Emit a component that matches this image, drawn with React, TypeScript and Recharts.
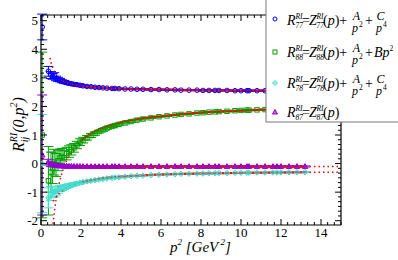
import React from "react";
import { ComposedChart, Scatter, Line, XAxis, YAxis, ErrorBar } from "recharts";

const FONT = "'Liberation Serif', 'DejaVu Serif', serif";
const BLUE = "#0000ff";
const GREEN = "#00a000";
const CYAN = "#40e0d0";
const PURPLE = "#9400d3";
const RED = "#ff0000";

// lattice momenta p^2 [GeV^2]
const p2 = [
  0.06, 0.37, 0.5, 0.58, 0.66, 0.75, 0.85, 0.95, 1.05, 1.15,
  1.28, 1.4, 1.52, 1.65, 1.8, 1.95, 2.1, 2.3, 2.5, 2.7,
  2.9, 3.1, 3.3, 3.55, 3.7, 3.9, 4.2, 4.5, 4.8, 5.1,
  5.5, 5.9, 6.3, 6.7, 7.0, 7.4, 7.8, 8.1, 8.4, 8.7,
  8.9, 9.3, 9.7, 10.0, 10.3, 10.4, 10.8, 11.2, 11.6, 11.8,
  12.0, 12.4, 12.8, 13.2,
];

const r77 = [
  4.78, 3.23, 3.1, 3.05, 3.08, 2.98, 2.95, 2.92, 2.88, 2.86,
  2.83, 2.81, 2.79, 2.77, 2.76, 2.74, 2.72, 2.7, 2.69, 2.67,
  2.66, 2.65, 2.64, 2.63, 2.63, 2.62, 2.61, 2.61, 2.6, 2.6,
  2.59, 2.59, 2.58, 2.58, 2.57, 2.57, 2.57, 2.56, 2.56, 2.56,
  2.56, 2.56, 2.55, 2.55, 2.55, 2.55, 2.55, 2.55, 2.55, 2.55,
  2.55, 2.55, 2.55, 2.55,
];
const e77 = [
  0.45, 0.17, 0.12, 0.1, 0.1, 0.08, 0.07, 0.06, 0.05, 0.05,
  0.04, 0.04, 0.04, 0.03, 0.03, 0.03, 0.03, 0.02, 0.02, 0.02,
  0.02, 0.02, 0.02, 0.02, 0.02, 0.02, 0.02, 0.02, 0.02, 0.02,
  0.02, 0.02, 0.02, 0.02, 0.02, 0.02, 0.02, 0.02, 0.02, 0.02,
  0.02, 0.02, 0.02, 0.02, 0.02, 0.02, 0.02, 0.02, 0.02, 0.02,
  0.02, 0.02, 0.02, 0.02,
];

const r88 = [
  1.0, -0.6, -0.3, -0.15, 0.05, -0.05, 0.1, 0.2, 0.25, 0.2,
  0.35, 0.42, 0.48, 0.55, 0.65, 0.75, 0.82, 0.9, 0.98, 1.05,
  1.12, 1.18, 1.24, 1.3, 1.33, 1.37, 1.42, 1.47, 1.52, 1.56,
  1.6, 1.64, 1.67, 1.7, 1.72, 1.74, 1.77, 1.78, 1.8, 1.81,
  1.82, 1.83, 1.85, 1.86, 1.87, 1.87, 1.88, 1.89, 1.9, 1.9,
  1.91, 1.92, 1.92, 1.93,
];
const e88 = [
  2.9, 1.2, 0.7, 0.55, 0.45, 0.4, 0.35, 0.3, 0.28, 0.25,
  0.22, 0.2, 0.18, 0.15, 0.13, 0.12, 0.1, 0.08, 0.07, 0.06,
  0.05, 0.05, 0.04, 0.04, 0.03, 0.03, 0.03, 0.03, 0.03, 0.03,
  0.02, 0.02, 0.02, 0.02, 0.02, 0.02, 0.02, 0.02, 0.02, 0.02,
  0.02, 0.02, 0.02, 0.02, 0.02, 0.02, 0.02, 0.02, 0.02, 0.02,
  0.02, 0.02, 0.02, 0.02,
];

const r78 = [
  0.0, -1.2, -1.05, -1.0, -0.98, -0.95, -0.92, -0.88, -0.85, -0.83,
  -0.8, -0.77, -0.75, -0.72, -0.7, -0.67, -0.65, -0.62, -0.6, -0.58,
  -0.56, -0.54, -0.52, -0.5, -0.49, -0.48, -0.46, -0.44, -0.43, -0.42,
  -0.4, -0.39, -0.38, -0.37, -0.36, -0.355, -0.35, -0.345, -0.34, -0.335,
  -0.33, -0.33, -0.325, -0.32, -0.32, -0.32, -0.315, -0.315, -0.31, -0.31,
  -0.31, -0.305, -0.305, -0.3,
];
const e78 = [
  1.72, 0.35, 0.25, 0.2, 0.18, 0.15, 0.12, 0.1, 0.09, 0.08,
  0.07, 0.06, 0.05, 0.05, 0.04, 0.04, 0.03, 0.03, 0.02, 0.02,
  0.02, 0.02, 0.02, 0.02, 0.02, 0.02, 0.02, 0.02, 0.02, 0.02,
  0.02, 0.02, 0.02, 0.02, 0.02, 0.02, 0.02, 0.02, 0.02, 0.02,
  0.02, 0.02, 0.02, 0.02, 0.02, 0.02, 0.02, 0.02, 0.02, 0.02,
  0.02, 0.02, 0.02, 0.02,
];

const r87 = [
  0.3, 0.05, -0.02, -0.04, -0.05, -0.06, -0.07, -0.08, -0.08, -0.09,
  -0.09, -0.09, -0.09, -0.095, -0.095, -0.095, -0.1, -0.1, -0.1, -0.1,
  -0.1, -0.1, -0.1, -0.1, -0.1, -0.1, -0.1, -0.1, -0.1, -0.1,
  -0.1, -0.1, -0.1, -0.1, -0.1, -0.1, -0.1, -0.1, -0.1, -0.1,
  -0.1, -0.1, -0.1, -0.1, -0.1, -0.1, -0.1, -0.1, -0.1, -0.1,
  -0.1, -0.1, -0.1, -0.1,
];
const e87 = [
  2.1, 0.1, 0.08, 0.07, 0.06, 0.05, 0.05, 0.04, 0.04, 0.03,
  0.02, 0.02, 0.02, 0.02, 0.02, 0.02, 0.02, 0.02, 0.02, 0.02,
  0.02, 0.02, 0.02, 0.02, 0.02, 0.02, 0.02, 0.02, 0.02, 0.02,
  0.02, 0.02, 0.02, 0.02, 0.02, 0.02, 0.02, 0.02, 0.02, 0.02,
  0.02, 0.02, 0.02, 0.02, 0.02, 0.02, 0.02, 0.02, 0.02, 0.02,
  0.02, 0.02, 0.02, 0.02,
];

// fit curves: dotted = extrapolation, solid = fit window
const fit77DotX = [0.45, 0.55, 0.65, 0.8, 1.0];
const fit77DotY = [3.7, 3.42, 3.25, 3.08, 2.95];
const fit77X = [1.0, 1.2, 1.5, 2, 2.5, 3, 4, 5, 6, 8, 10, 12, 13.2];
const fit77Y = [2.95, 2.87, 2.79, 2.72, 2.68, 2.65, 2.62, 2.6, 2.59, 2.57, 2.56, 2.558, 2.555];
const fit77TailX = [13.2, 15];
const fit77TailY = [2.555, 2.552];

const fit88DotX = [0.6, 0.7, 0.8, 0.9, 1.0, 1.2, 1.5, 1.8, 2.0];
const fit88DotY = [-2.11, -1.52, -1.07, -0.72, -0.445, -0.03, 0.39, 0.67, 0.81];
const fit88X = [2.0, 2.5, 3, 4, 5, 6, 7, 8, 9, 10, 11, 12, 13.2];
const fit88Y = [0.81, 1.06, 1.23, 1.445, 1.575, 1.66, 1.73, 1.79, 1.82, 1.85, 1.88, 1.9, 1.93];
const fit88TailX = [13.2, 15];
const fit88TailY = [1.93, 1.96];

const fit78DotX = [0.6, 0.8, 1.0, 1.25, 1.5, 2.0];
const fit78DotY = [-1.32, -1.13, -0.99, -0.86, -0.77, -0.65];
const fit78X = [2.0, 3, 4, 5, 6, 8, 10, 12, 13.2];
const fit78Y = [-0.65, -0.52, -0.456, -0.414, -0.386, -0.35, -0.329, -0.314, -0.308];
const fit78TailX = [13.2, 15];
const fit78TailY = [-0.308, -0.3];

const fit87X = [1.2, 2, 4, 8, 13.2];
const fit87Y = [-0.09, -0.095, -0.1, -0.1, -0.1];
const fit87TailX = [13.2, 15];
const fit87TailY = [-0.1, -0.1];

const X_DOMAIN: [number, number] = [0, 15];
const Y_DOMAIN: [number, number] = [-2.15, 5.2];
// 5 minor ticks between majors
const xTicks = Array.from({ length: 46 }, (_, i) => i / 3);
const yTicks = Array.from({ length: 44 }, (_, i) => (i - 12) / 6);

const pts = (xs: number[], ys: number[], es?: number[]) =>
  xs.map((x, i) => ({ x, y: ys[i], err: es ? es[i] : 0 }));

const isMajor = (v: number, step: number) => Math.abs(v / step - Math.round(v / step)) < 1e-6;

const serif = { fontFamily: FONT };
const serifIt = { fontFamily: FONT, fontStyle: "italic" as const };

function BottomTick({ x, y, payload }: any) {
  const major = isMajor(payload.value, 2);
  return (
    <g>
      <line x1={x} y1={y} x2={x} y2={y - (major ? 6 : 3)} stroke="#000" />
      {major && (
        <text x={x} y={y + 12} textAnchor="middle" fontSize={13} style={serif} fill="#000">
          {Math.round(payload.value)}
        </text>
      )}
    </g>
  );
}

function TopTick({ x, y, payload }: any) {
  const major = isMajor(payload.value, 2);
  return <line x1={x} y1={y} x2={x} y2={y + (major ? 6 : 3)} stroke="#000" />;
}

function LeftTick({ x, y, payload }: any) {
  const major = isMajor(payload.value, 1);
  return (
    <g>
      <line x1={x} y1={y} x2={x + (major ? 6 : 3)} y2={y} stroke="#000" />
      {major && (
        <text x={x - 3} y={y + 4.5} textAnchor="end" fontSize={13} style={serif} fill="#000">
          {Math.round(payload.value)}
        </text>
      )}
    </g>
  );
}

function RightTick({ x, y, payload }: any) {
  const major = isMajor(payload.value, 1);
  return <line x1={x} y1={y} x2={x - (major ? 6 : 3)} y2={y} stroke="#000" />;
}

function Circ({ cx, cy }: any) {
  return <circle cx={cx} cy={cy} r={2.3} fill="none" stroke={BLUE} strokeWidth={1} />;
}
function Sq({ cx, cy }: any) {
  return <rect x={cx - 2.2} y={cy - 2.2} width={4.4} height={4.4} fill="none" stroke={GREEN} strokeWidth={1} />;
}
function Dia({ cx, cy }: any) {
  return (
    <path
      d={`M${cx} ${cy - 2.8}L${cx + 2.8} ${cy}L${cx} ${cy + 2.8}L${cx - 2.8} ${cy}Z`}
      fill={CYAN}
      fillOpacity={0.5}
      stroke={CYAN}
      strokeWidth={1}
    />
  );
}
function Tri({ cx, cy }: any) {
  return (
    <path
      d={`M${cx} ${cy - 2.8}L${cx + 2.8} ${cy + 2}L${cx - 2.8} ${cy + 2}Z`}
      fill={PURPLE}
      fillOpacity={0.6}
      stroke={PURPLE}
      strokeWidth={1}
    />
  );
}

function Entry({ b, n, tail }: { b: number; n: string; tail: "AC" | "AB" | "none" }) {
  return (
    <g fill="#000">
      <text x={287} y={b} fontSize={14} style={serifIt}>R</text>
      <text x={295.5} y={b - 6} fontSize={7.5} style={serifIt}>RI</text>
      <text x={295.5} y={b + 3} fontSize={7.5} style={serifIt}>{n}</text>
      <text x={302} y={b} fontSize={14} style={serif}>=</text>
      <text x={309} y={b} fontSize={14} style={serifIt}>Z</text>
      <text x={316.5} y={b - 6} fontSize={7.5} style={serifIt}>RI</text>
      <text x={316.5} y={b + 3} fontSize={7.5} style={serifIt}>{n}</text>
      <text x={323} y={b} fontSize={14} style={serif}>
        (<tspan style={serifIt}>p</tspan>){tail !== "none" ? "+" : ""}
      </text>
      {tail !== "none" && (
        <>
          <text x={356.5} y={b - 5} fontSize={12} textAnchor="middle" style={serifIt}>A</text>
          <text x={355} y={b + 7} fontSize={12} textAnchor="middle" style={serifIt}>p</text>
          <text x={359} y={b + 2} fontSize={7.5} style={serif}>2</text>
          <text x={365} y={b} fontSize={14} style={serif}>+</text>
        </>
      )}
      {tail === "AC" && (
        <>
          <text x={380.5} y={b - 5} fontSize={12} textAnchor="middle" style={serifIt}>C</text>
          <text x={379} y={b + 7} fontSize={12} textAnchor="middle" style={serifIt}>p</text>
          <text x={383} y={b + 2} fontSize={7.5} style={serif}>4</text>
        </>
      )}
      {tail === "AB" && (
        <>
          <text x={374} y={b} fontSize={14} style={serifIt}>B</text>
          <text x={382.5} y={b} fontSize={14} style={serifIt}>p</text>
          <text x={389.5} y={b - 6} fontSize={7.5} style={serif}>2</text>
        </>
      )}
    </g>
  );
}

function Overlay() {
  return (
    <svg
      width={398}
      height={260}
      style={{ position: "absolute", left: 0, top: 0, pointerEvents: "none" }}
    >
      <rect x={266} y={-1} width={140} height={123} fill="#fff" stroke="#777" strokeWidth={1} />
      <circle cx={275} cy={19} r={2} fill="none" stroke={BLUE} />
      <rect x={273} y={50} width={4} height={4} fill="none" stroke={GREEN} />
      <path d="M275 80.5L277.5 83L275 85.5L272.5 83Z" fill={CYAN} fillOpacity={0.5} stroke={CYAN} />
      <path d="M275 109.5L277.5 114L272.5 114Z" fill={PURPLE} fillOpacity={0.6} stroke={PURPLE} />
      <Entry b={25} n="77" tail="AC" />
      <Entry b={57} n="88" tail="AB" />
      <Entry b={88} n="78" tail="AC" />
      <Entry b={117} n="87" tail="none" />

      <text x={170} y={252} fontSize={15} style={serifIt} fill="#000">
        p<tspan fontSize={9} dy={-7}>2</tspan>
        <tspan dy={7}> [GeV</tspan>
        <tspan fontSize={9} dy={-7}> 2</tspan>
        <tspan dy={7}>]</tspan>
      </text>

      <text x={24} y={152} transform="rotate(-90 24 152)" fontSize={16} style={serifIt} fill="#000">
        R<tspan fontSize={10} dy={-7}>RI</tspan>
        <tspan fontSize={10} dx={-9.4} dy={11}>ij</tspan>
        <tspan dx={3.8} dy={-4}>(0,p</tspan>
        <tspan fontSize={10} dy={-7}>2</tspan>
        <tspan dy={7}>)</tspan>
      </text>
    </svg>
  );
}

const fitLine = (xs: number[], ys: number[], dotted: boolean, key: string) => (
  <Line
    key={key}
    data={pts(xs, ys)}
    dataKey="y"
    type="monotone"
    stroke={RED}
    strokeWidth={dotted ? 1.5 : 2}
    strokeDasharray={dotted ? "1.5 3" : undefined}
    dot={false}
    activeDot={false}
    isAnimationActive={false}
  />
);

export default function App() {
  const series = [
    { data: pts(p2, r77, e77), color: BLUE, shape: Circ },
    { data: pts(p2, r88, e88), color: GREEN, shape: Sq },
    { data: pts(p2, r78, e78), color: CYAN, shape: Dia },
    { data: pts(p2, r87, e87), color: PURPLE, shape: Tri },
  ];
  return (
    <div style={{ position: "absolute", left: 0, top: 0, width: 398, height: 260, background: "#fff" }}>
      <ComposedChart width={398} height={260} margin={{ top: 14, right: 56, bottom: 0, left: 0 }}>
        <XAxis
          dataKey="x"
          type="number"
          domain={X_DOMAIN}
          allowDataOverflow
          ticks={xTicks}
          interval={0}
          height={35}
          tickSize={0}
          tickMargin={0}
          tickLine={false}
          tick={BottomTick}
          axisLine={{ stroke: "#000", strokeWidth: 1.2 }}
        />
        <XAxis
          xAxisId="top"
          orientation="top"
          dataKey="x"
          type="number"
          domain={X_DOMAIN}
          allowDataOverflow
          ticks={xTicks}
          interval={0}
          height={1}
          tickSize={0}
          tickMargin={0}
          tickLine={false}
          tick={TopTick}
          axisLine={{ stroke: "#000", strokeWidth: 1.2 }}
        />
        <YAxis
          dataKey="y"
          type="number"
          domain={Y_DOMAIN}
          allowDataOverflow
          ticks={yTicks}
          interval={0}
          width={41}
          tickSize={0}
          tickMargin={0}
          tickLine={false}
          tick={LeftTick}
          axisLine={{ stroke: "#000", strokeWidth: 1.2 }}
        />
        <YAxis
          yAxisId="right"
          orientation="right"
          dataKey="y"
          type="number"
          domain={Y_DOMAIN}
          allowDataOverflow
          ticks={yTicks}
          interval={0}
          width={1}
          tickSize={0}
          tickMargin={0}
          tickLine={false}
          tick={RightTick}
          axisLine={{ stroke: "#000", strokeWidth: 1.2 }}
        />
        {series.map((s, i) => (
          <Scatter
            key={i}
            data={s.data}
            dataKey="y"
            shape={s.shape}
            fill="none"
            stroke={s.color}
            isAnimationActive={false}
          >
            <ErrorBar
              dataKey="err"
              direction="y"
              width={5}
              stroke={s.color}
              strokeWidth={1}
              isAnimationActive={false}
            />
          </Scatter>
        ))}
        {fitLine(fit77DotX, fit77DotY, true, "a1")}
        {fitLine(fit77X, fit77Y, false, "a2")}
        {fitLine(fit77TailX, fit77TailY, true, "a3")}
        {fitLine(fit88DotX, fit88DotY, true, "b1")}
        {fitLine(fit88X, fit88Y, false, "b2")}
        {fitLine(fit88TailX, fit88TailY, true, "b3")}
        {fitLine(fit78DotX, fit78DotY, true, "c1")}
        {fitLine(fit78X, fit78Y, false, "c2")}
        {fitLine(fit78TailX, fit78TailY, true, "c3")}
        {fitLine(fit87X, fit87Y, false, "d2")}
        {fitLine(fit87TailX, fit87TailY, true, "d3")}
      </ComposedChart>
      <Overlay />
    </div>
  );
}
